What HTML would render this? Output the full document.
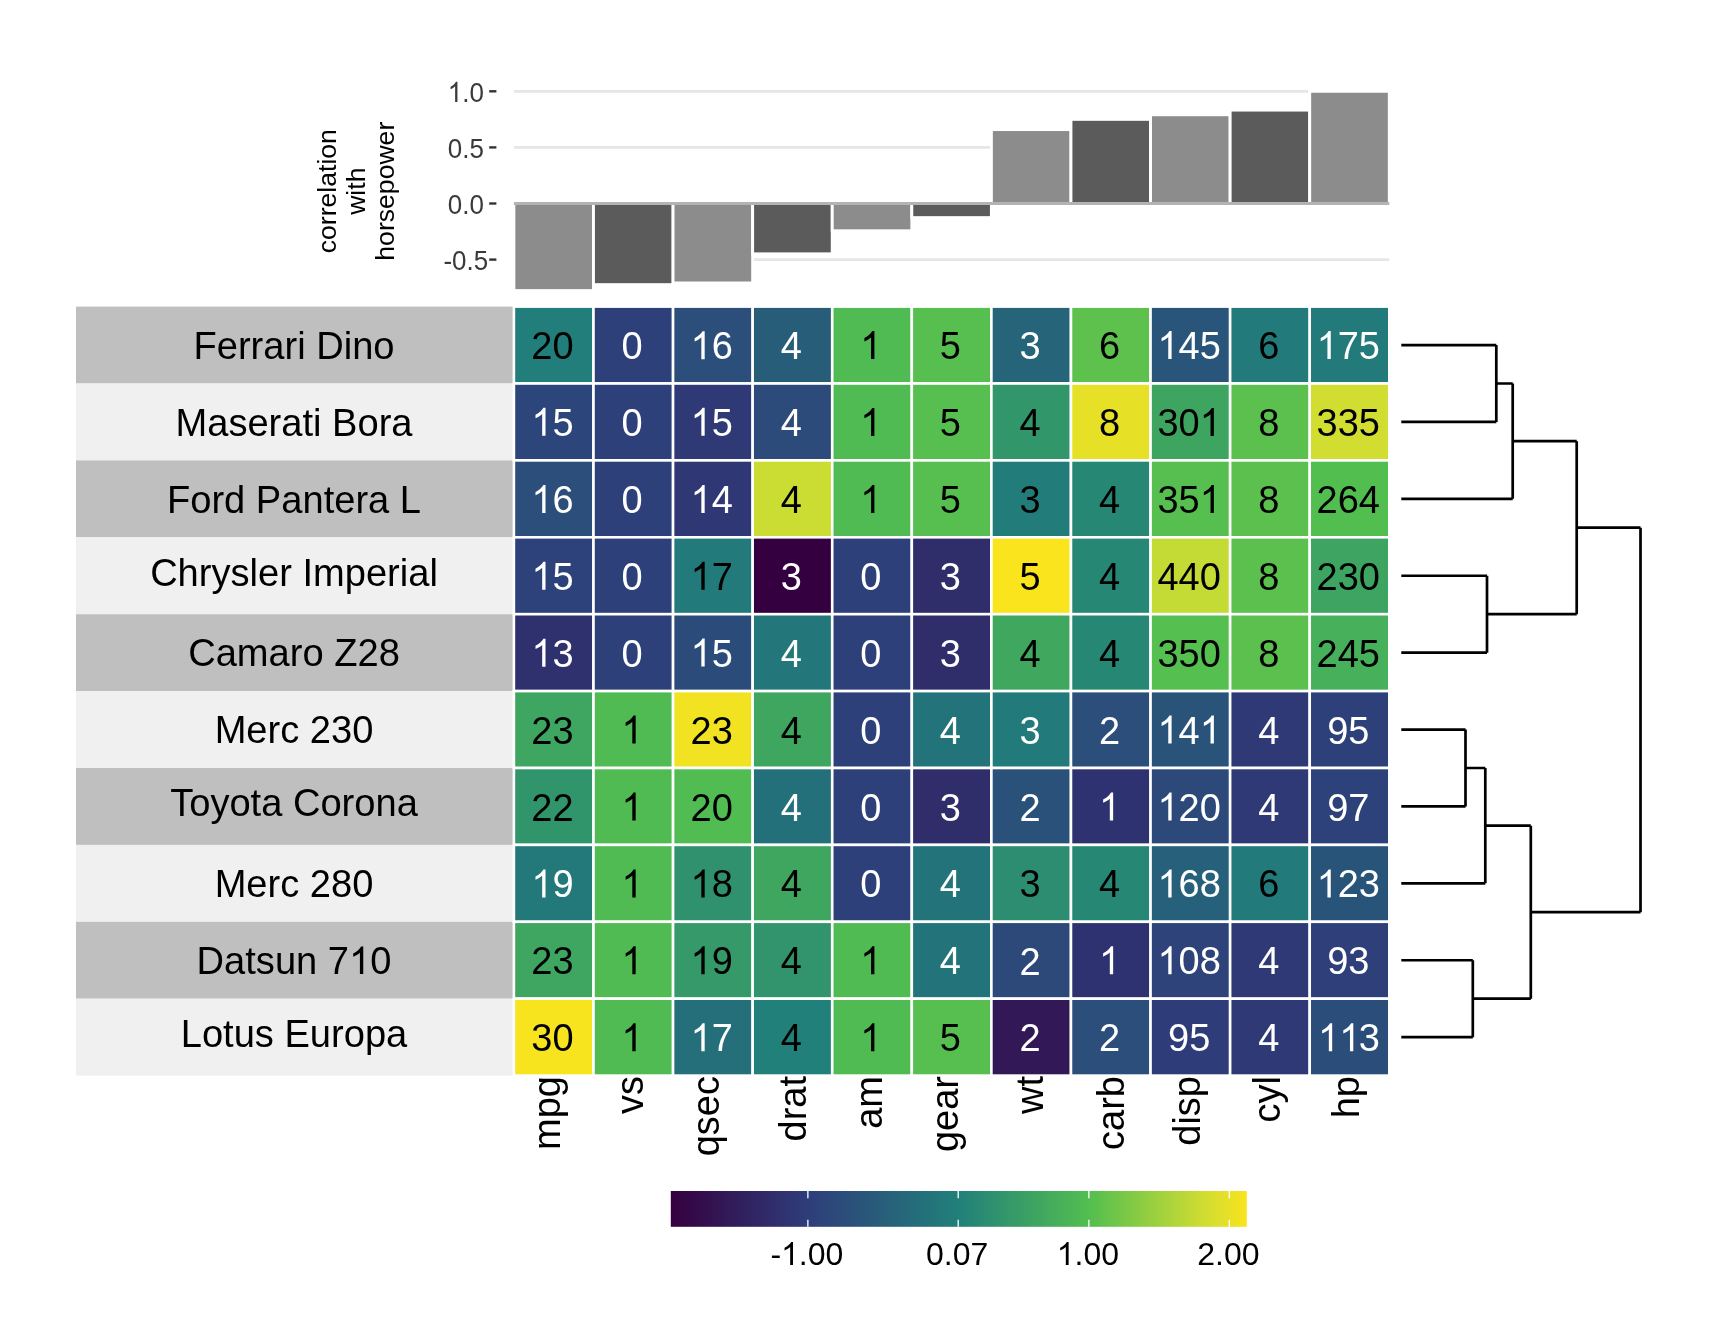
<!DOCTYPE html><html><head><meta charset="utf-8"><style>html,body{margin:0;padding:0;background:#fff;width:1728px;height:1344px;overflow:hidden}svg{display:block;will-change:transform}text{font-family:"Liberation Sans",sans-serif}</style></head><body>
<svg width="1728" height="1344" viewBox="0 0 1728 1344">
<rect x="0" y="0" width="1728" height="1344" fill="#ffffff"/>
<line x1="513.90" x2="1389.30" y1="91.30" y2="91.30" stroke="#e6e6e6" stroke-width="2.8"/>
<line x1="513.90" x2="1389.30" y1="147.40" y2="147.40" stroke="#e6e6e6" stroke-width="2.8"/>
<line x1="513.90" x2="1389.30" y1="259.60" y2="259.60" stroke="#e6e6e6" stroke-width="2.8"/>
<rect x="513.90" y="203.50" width="79.58" height="87.09" fill="#8c8c8c" stroke="#ffffff" stroke-width="2.9"/>
<rect x="593.48" y="203.50" width="79.58" height="81.13" fill="#5b5b5b" stroke="#ffffff" stroke-width="2.9"/>
<rect x="673.06" y="203.50" width="79.58" height="79.46" fill="#8c8c8c" stroke="#ffffff" stroke-width="2.9"/>
<rect x="752.65" y="203.50" width="79.58" height="50.36" fill="#5b5b5b" stroke="#ffffff" stroke-width="2.9"/>
<rect x="832.23" y="203.50" width="79.58" height="27.29" fill="#8c8c8c" stroke="#ffffff" stroke-width="2.9"/>
<rect x="911.81" y="203.50" width="79.58" height="14.10" fill="#5b5b5b" stroke="#ffffff" stroke-width="2.9"/>
<rect x="991.39" y="129.59" width="79.58" height="73.91" fill="#8c8c8c" stroke="#ffffff" stroke-width="2.9"/>
<rect x="1070.97" y="119.37" width="79.58" height="84.13" fill="#5b5b5b" stroke="#ffffff" stroke-width="2.9"/>
<rect x="1150.55" y="114.76" width="79.58" height="88.74" fill="#8c8c8c" stroke="#ffffff" stroke-width="2.9"/>
<rect x="1230.14" y="110.10" width="79.58" height="93.40" fill="#5b5b5b" stroke="#ffffff" stroke-width="2.9"/>
<rect x="1309.72" y="91.30" width="79.58" height="112.20" fill="#8c8c8c" stroke="#ffffff" stroke-width="2.9"/>
<line x1="513.90" x2="1389.30" y1="203.50" y2="203.50" stroke="#b3b3b3" stroke-width="2.9"/>
<line x1="489.2" x2="496.4" y1="91.30" y2="91.30" stroke="#333333" stroke-width="2.4"/>
<g transform="translate(465.80,101.97) scale(0.925,1.0)"><text x="0" y="0" font-size="28.1" fill="#3a3a3a" text-anchor="middle"><tspan fill="transparent">1</tspan>.0</text><path transform="translate(-19.53,0) scale(0.01372,-0.01372)" d="M763,0H583V1147Q518,1085 412.5,1023Q307,961 223,930V1104Q374,1175 487,1276Q600,1377 647,1472H763Z" fill="#3a3a3a"/></g>
<line x1="489.2" x2="496.4" y1="147.40" y2="147.40" stroke="#333333" stroke-width="2.4"/>
<g transform="translate(465.80,158.08) scale(0.925,1.0)"><text x="0" y="0" font-size="28.1" fill="#3a3a3a" text-anchor="middle">0.5</text></g>
<line x1="489.2" x2="496.4" y1="203.50" y2="203.50" stroke="#333333" stroke-width="2.4"/>
<g transform="translate(465.80,214.18) scale(0.925,1.0)"><text x="0" y="0" font-size="28.1" fill="#3a3a3a" text-anchor="middle">0.0</text></g>
<line x1="489.2" x2="496.4" y1="259.60" y2="259.60" stroke="#333333" stroke-width="2.4"/>
<g transform="translate(465.80,270.28) scale(0.925,1.0)"><text x="0" y="0" font-size="28.1" fill="#3a3a3a" text-anchor="middle">-0.5</text></g>
<text transform="translate(336.3,191.2) rotate(-90)" x="0" y="0" font-size="26.6" fill="#000" text-anchor="middle">correlation</text>
<text transform="translate(364.9,191.2) rotate(-90)" x="0" y="0" font-size="26.6" fill="#000" text-anchor="middle">with</text>
<text transform="translate(393.8,191.2) rotate(-90)" x="0" y="0" font-size="26.6" fill="#000" text-anchor="middle">horsepower</text>
<rect x="76.0" y="306.60" width="437.90" height="76.90" fill="#bfbfbf"/>
<g transform="translate(294.00,359.28)"><text x="0" y="0" font-size="38.1" fill="#000" text-anchor="middle">Ferrari Dino</text></g>
<rect x="76.0" y="383.50" width="437.90" height="76.90" fill="#f0f0f0"/>
<g transform="translate(294.00,436.18)"><text x="0" y="0" font-size="38.1" fill="#000" text-anchor="middle">Maserati Bora</text></g>
<rect x="76.0" y="460.40" width="437.90" height="76.90" fill="#bfbfbf"/>
<g transform="translate(294.00,513.08)"><text x="0" y="0" font-size="38.1" fill="#000" text-anchor="middle">Ford Pantera L</text></g>
<rect x="76.0" y="537.30" width="437.90" height="76.90" fill="#f0f0f0"/>
<g transform="translate(294.00,586.20)"><text x="0" y="0" font-size="38.1" fill="#000" text-anchor="middle">Chrysler Imperial</text></g>
<rect x="76.0" y="614.20" width="437.90" height="76.90" fill="#bfbfbf"/>
<g transform="translate(294.00,666.38)"><text x="0" y="0" font-size="38.1" fill="#000" text-anchor="middle">Camaro Z28</text></g>
<rect x="76.0" y="691.10" width="437.90" height="76.90" fill="#f0f0f0"/>
<g transform="translate(294.00,743.27)"><text x="0" y="0" font-size="38.1" fill="#000" text-anchor="middle">Merc 230</text></g>
<rect x="76.0" y="768.00" width="437.90" height="76.90" fill="#bfbfbf"/>
<g transform="translate(294.00,816.40)"><text x="0" y="0" font-size="38.1" fill="#000" text-anchor="middle">Toyota Corona</text></g>
<rect x="76.0" y="844.90" width="437.90" height="76.90" fill="#f0f0f0"/>
<g transform="translate(294.00,897.08)"><text x="0" y="0" font-size="38.1" fill="#000" text-anchor="middle">Merc 280</text></g>
<rect x="76.0" y="921.80" width="437.90" height="76.90" fill="#bfbfbf"/>
<g transform="translate(294.00,973.98)"><text x="0" y="0" font-size="38.1" fill="#000" text-anchor="middle">Datsun 7<tspan fill="transparent">1</tspan>0</text><path transform="translate(55.06,0) scale(0.01860,-0.01860)" d="M763,0H583V1147Q518,1085 412.5,1023Q307,961 223,930V1104Q374,1175 487,1276Q600,1377 647,1472H763Z" fill="#000"/></g>
<rect x="76.0" y="998.70" width="437.90" height="76.90" fill="#f0f0f0"/>
<g transform="translate(294.00,1046.90)"><text x="0" y="0" font-size="38.1" fill="#000" text-anchor="middle">Lotus Europa</text></g>
<rect x="513.90" y="306.60" width="79.58" height="76.90" fill="#217e7a" stroke="#ffffff" stroke-width="2.6"/>
<rect x="593.48" y="306.60" width="79.58" height="76.90" fill="#2d407a" stroke="#ffffff" stroke-width="2.6"/>
<rect x="673.06" y="306.60" width="79.58" height="76.90" fill="#2b4e7a" stroke="#ffffff" stroke-width="2.6"/>
<rect x="752.65" y="306.60" width="79.58" height="76.90" fill="#285d7a" stroke="#ffffff" stroke-width="2.6"/>
<rect x="832.23" y="306.60" width="79.58" height="76.90" fill="#4fbb52" stroke="#ffffff" stroke-width="2.6"/>
<rect x="911.81" y="306.60" width="79.58" height="76.90" fill="#56bf4f" stroke="#ffffff" stroke-width="2.6"/>
<rect x="991.39" y="306.60" width="79.58" height="76.90" fill="#26647a" stroke="#ffffff" stroke-width="2.6"/>
<rect x="1070.97" y="306.60" width="79.58" height="76.90" fill="#5ec14d" stroke="#ffffff" stroke-width="2.6"/>
<rect x="1150.55" y="306.60" width="79.58" height="76.90" fill="#29557a" stroke="#ffffff" stroke-width="2.6"/>
<rect x="1230.14" y="306.60" width="79.58" height="76.90" fill="#227b7a" stroke="#ffffff" stroke-width="2.6"/>
<rect x="1309.72" y="306.60" width="79.58" height="76.90" fill="#227a7a" stroke="#ffffff" stroke-width="2.6"/>
<rect x="513.90" y="383.50" width="79.58" height="76.90" fill="#2c457a" stroke="#ffffff" stroke-width="2.6"/>
<rect x="593.48" y="383.50" width="79.58" height="76.90" fill="#2d407a" stroke="#ffffff" stroke-width="2.6"/>
<rect x="673.06" y="383.50" width="79.58" height="76.90" fill="#2e3976" stroke="#ffffff" stroke-width="2.6"/>
<rect x="752.65" y="383.50" width="79.58" height="76.90" fill="#2c4a7a" stroke="#ffffff" stroke-width="2.6"/>
<rect x="832.23" y="383.50" width="79.58" height="76.90" fill="#4fbb52" stroke="#ffffff" stroke-width="2.6"/>
<rect x="911.81" y="383.50" width="79.58" height="76.90" fill="#56bf4f" stroke="#ffffff" stroke-width="2.6"/>
<rect x="991.39" y="383.50" width="79.58" height="76.90" fill="#32966b" stroke="#ffffff" stroke-width="2.6"/>
<rect x="1070.97" y="383.50" width="79.58" height="76.90" fill="#e6e127" stroke="#ffffff" stroke-width="2.6"/>
<rect x="1150.55" y="383.50" width="79.58" height="76.90" fill="#3ea561" stroke="#ffffff" stroke-width="2.6"/>
<rect x="1230.14" y="383.50" width="79.58" height="76.90" fill="#5bc04e" stroke="#ffffff" stroke-width="2.6"/>
<rect x="1309.72" y="383.50" width="79.58" height="76.90" fill="#d1dd31" stroke="#ffffff" stroke-width="2.6"/>
<rect x="513.90" y="460.40" width="79.58" height="76.90" fill="#2b4e7a" stroke="#ffffff" stroke-width="2.6"/>
<rect x="593.48" y="460.40" width="79.58" height="76.90" fill="#2d407a" stroke="#ffffff" stroke-width="2.6"/>
<rect x="673.06" y="460.40" width="79.58" height="76.90" fill="#2f3774" stroke="#ffffff" stroke-width="2.6"/>
<rect x="752.65" y="460.40" width="79.58" height="76.90" fill="#cbdc33" stroke="#ffffff" stroke-width="2.6"/>
<rect x="832.23" y="460.40" width="79.58" height="76.90" fill="#4fbb52" stroke="#ffffff" stroke-width="2.6"/>
<rect x="911.81" y="460.40" width="79.58" height="76.90" fill="#56bf4f" stroke="#ffffff" stroke-width="2.6"/>
<rect x="991.39" y="460.40" width="79.58" height="76.90" fill="#227c7a" stroke="#ffffff" stroke-width="2.6"/>
<rect x="1070.97" y="460.40" width="79.58" height="76.90" fill="#278775" stroke="#ffffff" stroke-width="2.6"/>
<rect x="1150.55" y="460.40" width="79.58" height="76.90" fill="#56bf4f" stroke="#ffffff" stroke-width="2.6"/>
<rect x="1230.14" y="460.40" width="79.58" height="76.90" fill="#5bc04e" stroke="#ffffff" stroke-width="2.6"/>
<rect x="1309.72" y="460.40" width="79.58" height="76.90" fill="#53be50" stroke="#ffffff" stroke-width="2.6"/>
<rect x="513.90" y="537.30" width="79.58" height="76.90" fill="#2d417a" stroke="#ffffff" stroke-width="2.6"/>
<rect x="593.48" y="537.30" width="79.58" height="76.90" fill="#2d407a" stroke="#ffffff" stroke-width="2.6"/>
<rect x="673.06" y="537.30" width="79.58" height="76.90" fill="#227b7a" stroke="#ffffff" stroke-width="2.6"/>
<rect x="752.65" y="537.30" width="79.58" height="76.90" fill="#35003f" stroke="#ffffff" stroke-width="2.6"/>
<rect x="832.23" y="537.30" width="79.58" height="76.90" fill="#2d407a" stroke="#ffffff" stroke-width="2.6"/>
<rect x="911.81" y="537.30" width="79.58" height="76.90" fill="#302d6b" stroke="#ffffff" stroke-width="2.6"/>
<rect x="991.39" y="537.30" width="79.58" height="76.90" fill="#f9e41e" stroke="#ffffff" stroke-width="2.6"/>
<rect x="1070.97" y="537.30" width="79.58" height="76.90" fill="#278775" stroke="#ffffff" stroke-width="2.6"/>
<rect x="1150.55" y="537.30" width="79.58" height="76.90" fill="#c4da35" stroke="#ffffff" stroke-width="2.6"/>
<rect x="1230.14" y="537.30" width="79.58" height="76.90" fill="#5bc04e" stroke="#ffffff" stroke-width="2.6"/>
<rect x="1309.72" y="537.30" width="79.58" height="76.90" fill="#3ea462" stroke="#ffffff" stroke-width="2.6"/>
<rect x="513.90" y="614.20" width="79.58" height="76.90" fill="#2f306e" stroke="#ffffff" stroke-width="2.6"/>
<rect x="593.48" y="614.20" width="79.58" height="76.90" fill="#2d407a" stroke="#ffffff" stroke-width="2.6"/>
<rect x="673.06" y="614.20" width="79.58" height="76.90" fill="#2b4c7a" stroke="#ffffff" stroke-width="2.6"/>
<rect x="752.65" y="614.20" width="79.58" height="76.90" fill="#23777a" stroke="#ffffff" stroke-width="2.6"/>
<rect x="832.23" y="614.20" width="79.58" height="76.90" fill="#2d407a" stroke="#ffffff" stroke-width="2.6"/>
<rect x="911.81" y="614.20" width="79.58" height="76.90" fill="#302d6b" stroke="#ffffff" stroke-width="2.6"/>
<rect x="991.39" y="614.20" width="79.58" height="76.90" fill="#40a75f" stroke="#ffffff" stroke-width="2.6"/>
<rect x="1070.97" y="614.20" width="79.58" height="76.90" fill="#278775" stroke="#ffffff" stroke-width="2.6"/>
<rect x="1150.55" y="614.20" width="79.58" height="76.90" fill="#55bf4f" stroke="#ffffff" stroke-width="2.6"/>
<rect x="1230.14" y="614.20" width="79.58" height="76.90" fill="#5bc04e" stroke="#ffffff" stroke-width="2.6"/>
<rect x="1309.72" y="614.20" width="79.58" height="76.90" fill="#47b05a" stroke="#ffffff" stroke-width="2.6"/>
<rect x="513.90" y="691.10" width="79.58" height="76.90" fill="#3fa661" stroke="#ffffff" stroke-width="2.6"/>
<rect x="593.48" y="691.10" width="79.58" height="76.90" fill="#4fbb52" stroke="#ffffff" stroke-width="2.6"/>
<rect x="673.06" y="691.10" width="79.58" height="76.90" fill="#f1e322" stroke="#ffffff" stroke-width="2.6"/>
<rect x="752.65" y="691.10" width="79.58" height="76.90" fill="#3fa660" stroke="#ffffff" stroke-width="2.6"/>
<rect x="832.23" y="691.10" width="79.58" height="76.90" fill="#2d407a" stroke="#ffffff" stroke-width="2.6"/>
<rect x="911.81" y="691.10" width="79.58" height="76.90" fill="#23747a" stroke="#ffffff" stroke-width="2.6"/>
<rect x="991.39" y="691.10" width="79.58" height="76.90" fill="#227b7a" stroke="#ffffff" stroke-width="2.6"/>
<rect x="1070.97" y="691.10" width="79.58" height="76.90" fill="#2b4e7a" stroke="#ffffff" stroke-width="2.6"/>
<rect x="1150.55" y="691.10" width="79.58" height="76.90" fill="#2a537a" stroke="#ffffff" stroke-width="2.6"/>
<rect x="1230.14" y="691.10" width="79.58" height="76.90" fill="#2e3976" stroke="#ffffff" stroke-width="2.6"/>
<rect x="1309.72" y="691.10" width="79.58" height="76.90" fill="#2d407a" stroke="#ffffff" stroke-width="2.6"/>
<rect x="513.90" y="768.00" width="79.58" height="76.90" fill="#31956c" stroke="#ffffff" stroke-width="2.6"/>
<rect x="593.48" y="768.00" width="79.58" height="76.90" fill="#4fbb52" stroke="#ffffff" stroke-width="2.6"/>
<rect x="673.06" y="768.00" width="79.58" height="76.90" fill="#51bc51" stroke="#ffffff" stroke-width="2.6"/>
<rect x="752.65" y="768.00" width="79.58" height="76.90" fill="#24707a" stroke="#ffffff" stroke-width="2.6"/>
<rect x="832.23" y="768.00" width="79.58" height="76.90" fill="#2d407a" stroke="#ffffff" stroke-width="2.6"/>
<rect x="911.81" y="768.00" width="79.58" height="76.90" fill="#302d6b" stroke="#ffffff" stroke-width="2.6"/>
<rect x="991.39" y="768.00" width="79.58" height="76.90" fill="#2a517a" stroke="#ffffff" stroke-width="2.6"/>
<rect x="1070.97" y="768.00" width="79.58" height="76.90" fill="#2f3270" stroke="#ffffff" stroke-width="2.6"/>
<rect x="1150.55" y="768.00" width="79.58" height="76.90" fill="#2c497a" stroke="#ffffff" stroke-width="2.6"/>
<rect x="1230.14" y="768.00" width="79.58" height="76.90" fill="#2e3976" stroke="#ffffff" stroke-width="2.6"/>
<rect x="1309.72" y="768.00" width="79.58" height="76.90" fill="#2d427a" stroke="#ffffff" stroke-width="2.6"/>
<rect x="513.90" y="844.90" width="79.58" height="76.90" fill="#23787a" stroke="#ffffff" stroke-width="2.6"/>
<rect x="593.48" y="844.90" width="79.58" height="76.90" fill="#4fbb52" stroke="#ffffff" stroke-width="2.6"/>
<rect x="673.06" y="844.90" width="79.58" height="76.90" fill="#2f916e" stroke="#ffffff" stroke-width="2.6"/>
<rect x="752.65" y="844.90" width="79.58" height="76.90" fill="#3fa660" stroke="#ffffff" stroke-width="2.6"/>
<rect x="832.23" y="844.90" width="79.58" height="76.90" fill="#2d407a" stroke="#ffffff" stroke-width="2.6"/>
<rect x="911.81" y="844.90" width="79.58" height="76.90" fill="#23747a" stroke="#ffffff" stroke-width="2.6"/>
<rect x="991.39" y="844.90" width="79.58" height="76.90" fill="#2c8d71" stroke="#ffffff" stroke-width="2.6"/>
<rect x="1070.97" y="844.90" width="79.58" height="76.90" fill="#278775" stroke="#ffffff" stroke-width="2.6"/>
<rect x="1150.55" y="844.90" width="79.58" height="76.90" fill="#27607a" stroke="#ffffff" stroke-width="2.6"/>
<rect x="1230.14" y="844.90" width="79.58" height="76.90" fill="#227b7a" stroke="#ffffff" stroke-width="2.6"/>
<rect x="1309.72" y="844.90" width="79.58" height="76.90" fill="#29547a" stroke="#ffffff" stroke-width="2.6"/>
<rect x="513.90" y="921.80" width="79.58" height="76.90" fill="#3fa661" stroke="#ffffff" stroke-width="2.6"/>
<rect x="593.48" y="921.80" width="79.58" height="76.90" fill="#4fbb52" stroke="#ffffff" stroke-width="2.6"/>
<rect x="673.06" y="921.80" width="79.58" height="76.90" fill="#359969" stroke="#ffffff" stroke-width="2.6"/>
<rect x="752.65" y="921.80" width="79.58" height="76.90" fill="#31946c" stroke="#ffffff" stroke-width="2.6"/>
<rect x="832.23" y="921.80" width="79.58" height="76.90" fill="#4fbb52" stroke="#ffffff" stroke-width="2.6"/>
<rect x="911.81" y="921.80" width="79.58" height="76.90" fill="#23747a" stroke="#ffffff" stroke-width="2.6"/>
<rect x="991.39" y="921.80" width="79.58" height="76.90" fill="#2c497a" stroke="#ffffff" stroke-width="2.6"/>
<rect x="1070.97" y="921.80" width="79.58" height="76.90" fill="#2f3270" stroke="#ffffff" stroke-width="2.6"/>
<rect x="1150.55" y="921.80" width="79.58" height="76.90" fill="#2d437a" stroke="#ffffff" stroke-width="2.6"/>
<rect x="1230.14" y="921.80" width="79.58" height="76.90" fill="#2e3976" stroke="#ffffff" stroke-width="2.6"/>
<rect x="1309.72" y="921.80" width="79.58" height="76.90" fill="#2e3f7a" stroke="#ffffff" stroke-width="2.6"/>
<rect x="513.90" y="998.70" width="79.58" height="76.90" fill="#f7e41f" stroke="#ffffff" stroke-width="2.6"/>
<rect x="593.48" y="998.70" width="79.58" height="76.90" fill="#4fbb52" stroke="#ffffff" stroke-width="2.6"/>
<rect x="673.06" y="998.70" width="79.58" height="76.90" fill="#246f7a" stroke="#ffffff" stroke-width="2.6"/>
<rect x="752.65" y="998.70" width="79.58" height="76.90" fill="#21807a" stroke="#ffffff" stroke-width="2.6"/>
<rect x="832.23" y="998.70" width="79.58" height="76.90" fill="#4fbb52" stroke="#ffffff" stroke-width="2.6"/>
<rect x="911.81" y="998.70" width="79.58" height="76.90" fill="#56bf4f" stroke="#ffffff" stroke-width="2.6"/>
<rect x="991.39" y="998.70" width="79.58" height="76.90" fill="#321856" stroke="#ffffff" stroke-width="2.6"/>
<rect x="1070.97" y="998.70" width="79.58" height="76.90" fill="#2b4e7a" stroke="#ffffff" stroke-width="2.6"/>
<rect x="1150.55" y="998.70" width="79.58" height="76.90" fill="#2e3c79" stroke="#ffffff" stroke-width="2.6"/>
<rect x="1230.14" y="998.70" width="79.58" height="76.90" fill="#2e3976" stroke="#ffffff" stroke-width="2.6"/>
<rect x="1309.72" y="998.70" width="79.58" height="76.90" fill="#2b4d7a" stroke="#ffffff" stroke-width="2.6"/>
<g transform="translate(552.49,359.15) scale(1.0,1.026)"><text x="0" y="0" font-size="38.0" fill="#000000" text-anchor="middle">20</text></g>
<g transform="translate(632.07,359.15) scale(1.0,1.026)"><text x="0" y="0" font-size="38.0" fill="#ffffff" text-anchor="middle">0</text></g>
<g transform="translate(711.65,359.15) scale(1.0,1.026)"><text x="0" y="0" font-size="38.0" fill="#ffffff" text-anchor="middle"><tspan fill="transparent">1</tspan>6</text><path transform="translate(-21.13,0) scale(0.01855,-0.01855)" d="M763,0H583V1147Q518,1085 412.5,1023Q307,961 223,930V1104Q374,1175 487,1276Q600,1377 647,1472H763Z" fill="#ffffff"/></g>
<g transform="translate(791.24,359.12) scale(1.0,1.026)"><text x="0" y="0" font-size="38.0" fill="#ffffff" text-anchor="middle">4</text></g>
<g transform="translate(870.82,359.12) scale(1.0,1.026)"><text x="0" y="0" font-size="38.0" fill="#000000" text-anchor="middle"><tspan fill="transparent">1</tspan></text><path transform="translate(-10.57,0) scale(0.01855,-0.01855)" d="M763,0H583V1147Q518,1085 412.5,1023Q307,961 223,930V1104Q374,1175 487,1276Q600,1377 647,1472H763Z" fill="#000000"/></g>
<g transform="translate(950.40,358.95) scale(1.0,1.026)"><text x="0" y="0" font-size="38.0" fill="#000000" text-anchor="middle">5</text></g>
<g transform="translate(1029.98,359.15) scale(1.0,1.026)"><text x="0" y="0" font-size="38.0" fill="#ffffff" text-anchor="middle">3</text></g>
<g transform="translate(1109.56,359.15) scale(1.0,1.026)"><text x="0" y="0" font-size="38.0" fill="#000000" text-anchor="middle">6</text></g>
<g transform="translate(1189.15,358.95) scale(1.0,1.026)"><text x="0" y="0" font-size="38.0" fill="#ffffff" text-anchor="middle"><tspan fill="transparent">1</tspan>45</text><path transform="translate(-31.70,0) scale(0.01855,-0.01855)" d="M763,0H583V1147Q518,1085 412.5,1023Q307,961 223,930V1104Q374,1175 487,1276Q600,1377 647,1472H763Z" fill="#ffffff"/></g>
<g transform="translate(1268.73,359.15) scale(1.0,1.026)"><text x="0" y="0" font-size="38.0" fill="#000000" text-anchor="middle">6</text></g>
<g transform="translate(1348.31,358.95) scale(1.0,1.026)"><text x="0" y="0" font-size="38.0" fill="#ffffff" text-anchor="middle"><tspan fill="transparent">1</tspan>75</text><path transform="translate(-31.70,0) scale(0.01855,-0.01855)" d="M763,0H583V1147Q518,1085 412.5,1023Q307,961 223,930V1104Q374,1175 487,1276Q600,1377 647,1472H763Z" fill="#ffffff"/></g>
<g transform="translate(552.49,435.85) scale(1.0,1.026)"><text x="0" y="0" font-size="38.0" fill="#ffffff" text-anchor="middle"><tspan fill="transparent">1</tspan>5</text><path transform="translate(-21.13,0) scale(0.01855,-0.01855)" d="M763,0H583V1147Q518,1085 412.5,1023Q307,961 223,930V1104Q374,1175 487,1276Q600,1377 647,1472H763Z" fill="#ffffff"/></g>
<g transform="translate(632.07,436.05) scale(1.0,1.026)"><text x="0" y="0" font-size="38.0" fill="#ffffff" text-anchor="middle">0</text></g>
<g transform="translate(711.65,435.85) scale(1.0,1.026)"><text x="0" y="0" font-size="38.0" fill="#ffffff" text-anchor="middle"><tspan fill="transparent">1</tspan>5</text><path transform="translate(-21.13,0) scale(0.01855,-0.01855)" d="M763,0H583V1147Q518,1085 412.5,1023Q307,961 223,930V1104Q374,1175 487,1276Q600,1377 647,1472H763Z" fill="#ffffff"/></g>
<g transform="translate(791.24,436.02) scale(1.0,1.026)"><text x="0" y="0" font-size="38.0" fill="#ffffff" text-anchor="middle">4</text></g>
<g transform="translate(870.82,436.02) scale(1.0,1.026)"><text x="0" y="0" font-size="38.0" fill="#000000" text-anchor="middle"><tspan fill="transparent">1</tspan></text><path transform="translate(-10.57,0) scale(0.01855,-0.01855)" d="M763,0H583V1147Q518,1085 412.5,1023Q307,961 223,930V1104Q374,1175 487,1276Q600,1377 647,1472H763Z" fill="#000000"/></g>
<g transform="translate(950.40,435.85) scale(1.0,1.026)"><text x="0" y="0" font-size="38.0" fill="#000000" text-anchor="middle">5</text></g>
<g transform="translate(1029.98,436.02) scale(1.0,1.026)"><text x="0" y="0" font-size="38.0" fill="#000000" text-anchor="middle">4</text></g>
<g transform="translate(1109.56,436.05) scale(1.0,1.026)"><text x="0" y="0" font-size="38.0" fill="#000000" text-anchor="middle">8</text></g>
<g transform="translate(1189.15,436.05) scale(1.0,1.026)"><text x="0" y="0" font-size="38.0" fill="#000000" text-anchor="middle">30<tspan fill="transparent">1</tspan></text><path transform="translate(10.57,0) scale(0.01855,-0.01855)" d="M763,0H583V1147Q518,1085 412.5,1023Q307,961 223,930V1104Q374,1175 487,1276Q600,1377 647,1472H763Z" fill="#000000"/></g>
<g transform="translate(1268.73,436.05) scale(1.0,1.026)"><text x="0" y="0" font-size="38.0" fill="#000000" text-anchor="middle">8</text></g>
<g transform="translate(1348.31,436.05) scale(1.0,1.026)"><text x="0" y="0" font-size="38.0" fill="#000000" text-anchor="middle">335</text></g>
<g transform="translate(552.49,512.95) scale(1.0,1.026)"><text x="0" y="0" font-size="38.0" fill="#ffffff" text-anchor="middle"><tspan fill="transparent">1</tspan>6</text><path transform="translate(-21.13,0) scale(0.01855,-0.01855)" d="M763,0H583V1147Q518,1085 412.5,1023Q307,961 223,930V1104Q374,1175 487,1276Q600,1377 647,1472H763Z" fill="#ffffff"/></g>
<g transform="translate(632.07,512.95) scale(1.0,1.026)"><text x="0" y="0" font-size="38.0" fill="#ffffff" text-anchor="middle">0</text></g>
<g transform="translate(711.65,512.92) scale(1.0,1.026)"><text x="0" y="0" font-size="38.0" fill="#ffffff" text-anchor="middle"><tspan fill="transparent">1</tspan>4</text><path transform="translate(-21.13,0) scale(0.01855,-0.01855)" d="M763,0H583V1147Q518,1085 412.5,1023Q307,961 223,930V1104Q374,1175 487,1276Q600,1377 647,1472H763Z" fill="#ffffff"/></g>
<g transform="translate(791.24,512.92) scale(1.0,1.026)"><text x="0" y="0" font-size="38.0" fill="#000000" text-anchor="middle">4</text></g>
<g transform="translate(870.82,512.92) scale(1.0,1.026)"><text x="0" y="0" font-size="38.0" fill="#000000" text-anchor="middle"><tspan fill="transparent">1</tspan></text><path transform="translate(-10.57,0) scale(0.01855,-0.01855)" d="M763,0H583V1147Q518,1085 412.5,1023Q307,961 223,930V1104Q374,1175 487,1276Q600,1377 647,1472H763Z" fill="#000000"/></g>
<g transform="translate(950.40,512.75) scale(1.0,1.026)"><text x="0" y="0" font-size="38.0" fill="#000000" text-anchor="middle">5</text></g>
<g transform="translate(1029.98,512.95) scale(1.0,1.026)"><text x="0" y="0" font-size="38.0" fill="#000000" text-anchor="middle">3</text></g>
<g transform="translate(1109.56,512.92) scale(1.0,1.026)"><text x="0" y="0" font-size="38.0" fill="#000000" text-anchor="middle">4</text></g>
<g transform="translate(1189.15,512.95) scale(1.0,1.026)"><text x="0" y="0" font-size="38.0" fill="#000000" text-anchor="middle">35<tspan fill="transparent">1</tspan></text><path transform="translate(10.57,0) scale(0.01855,-0.01855)" d="M763,0H583V1147Q518,1085 412.5,1023Q307,961 223,930V1104Q374,1175 487,1276Q600,1377 647,1472H763Z" fill="#000000"/></g>
<g transform="translate(1268.73,512.95) scale(1.0,1.026)"><text x="0" y="0" font-size="38.0" fill="#000000" text-anchor="middle">8</text></g>
<g transform="translate(1348.31,512.95) scale(1.0,1.026)"><text x="0" y="0" font-size="38.0" fill="#000000" text-anchor="middle">264</text></g>
<g transform="translate(552.49,589.65) scale(1.0,1.026)"><text x="0" y="0" font-size="38.0" fill="#ffffff" text-anchor="middle"><tspan fill="transparent">1</tspan>5</text><path transform="translate(-21.13,0) scale(0.01855,-0.01855)" d="M763,0H583V1147Q518,1085 412.5,1023Q307,961 223,930V1104Q374,1175 487,1276Q600,1377 647,1472H763Z" fill="#ffffff"/></g>
<g transform="translate(632.07,589.85) scale(1.0,1.026)"><text x="0" y="0" font-size="38.0" fill="#ffffff" text-anchor="middle">0</text></g>
<g transform="translate(711.65,589.83) scale(1.0,1.026)"><text x="0" y="0" font-size="38.0" fill="#000000" text-anchor="middle"><tspan fill="transparent">1</tspan>7</text><path transform="translate(-21.13,0) scale(0.01855,-0.01855)" d="M763,0H583V1147Q518,1085 412.5,1023Q307,961 223,930V1104Q374,1175 487,1276Q600,1377 647,1472H763Z" fill="#000000"/></g>
<g transform="translate(791.24,589.85) scale(1.0,1.026)"><text x="0" y="0" font-size="38.0" fill="#ffffff" text-anchor="middle">3</text></g>
<g transform="translate(870.82,589.85) scale(1.0,1.026)"><text x="0" y="0" font-size="38.0" fill="#ffffff" text-anchor="middle">0</text></g>
<g transform="translate(950.40,589.85) scale(1.0,1.026)"><text x="0" y="0" font-size="38.0" fill="#ffffff" text-anchor="middle">3</text></g>
<g transform="translate(1029.98,589.65) scale(1.0,1.026)"><text x="0" y="0" font-size="38.0" fill="#000000" text-anchor="middle">5</text></g>
<g transform="translate(1109.56,589.83) scale(1.0,1.026)"><text x="0" y="0" font-size="38.0" fill="#000000" text-anchor="middle">4</text></g>
<g transform="translate(1189.15,589.85) scale(1.0,1.026)"><text x="0" y="0" font-size="38.0" fill="#000000" text-anchor="middle">440</text></g>
<g transform="translate(1268.73,589.85) scale(1.0,1.026)"><text x="0" y="0" font-size="38.0" fill="#000000" text-anchor="middle">8</text></g>
<g transform="translate(1348.31,589.85) scale(1.0,1.026)"><text x="0" y="0" font-size="38.0" fill="#000000" text-anchor="middle">230</text></g>
<g transform="translate(552.49,666.75) scale(1.0,1.026)"><text x="0" y="0" font-size="38.0" fill="#ffffff" text-anchor="middle"><tspan fill="transparent">1</tspan>3</text><path transform="translate(-21.13,0) scale(0.01855,-0.01855)" d="M763,0H583V1147Q518,1085 412.5,1023Q307,961 223,930V1104Q374,1175 487,1276Q600,1377 647,1472H763Z" fill="#ffffff"/></g>
<g transform="translate(632.07,666.75) scale(1.0,1.026)"><text x="0" y="0" font-size="38.0" fill="#ffffff" text-anchor="middle">0</text></g>
<g transform="translate(711.65,666.55) scale(1.0,1.026)"><text x="0" y="0" font-size="38.0" fill="#ffffff" text-anchor="middle"><tspan fill="transparent">1</tspan>5</text><path transform="translate(-21.13,0) scale(0.01855,-0.01855)" d="M763,0H583V1147Q518,1085 412.5,1023Q307,961 223,930V1104Q374,1175 487,1276Q600,1377 647,1472H763Z" fill="#ffffff"/></g>
<g transform="translate(791.24,666.73) scale(1.0,1.026)"><text x="0" y="0" font-size="38.0" fill="#ffffff" text-anchor="middle">4</text></g>
<g transform="translate(870.82,666.75) scale(1.0,1.026)"><text x="0" y="0" font-size="38.0" fill="#ffffff" text-anchor="middle">0</text></g>
<g transform="translate(950.40,666.75) scale(1.0,1.026)"><text x="0" y="0" font-size="38.0" fill="#ffffff" text-anchor="middle">3</text></g>
<g transform="translate(1029.98,666.73) scale(1.0,1.026)"><text x="0" y="0" font-size="38.0" fill="#000000" text-anchor="middle">4</text></g>
<g transform="translate(1109.56,666.73) scale(1.0,1.026)"><text x="0" y="0" font-size="38.0" fill="#000000" text-anchor="middle">4</text></g>
<g transform="translate(1189.15,666.75) scale(1.0,1.026)"><text x="0" y="0" font-size="38.0" fill="#000000" text-anchor="middle">350</text></g>
<g transform="translate(1268.73,666.75) scale(1.0,1.026)"><text x="0" y="0" font-size="38.0" fill="#000000" text-anchor="middle">8</text></g>
<g transform="translate(1348.31,666.75) scale(1.0,1.026)"><text x="0" y="0" font-size="38.0" fill="#000000" text-anchor="middle">245</text></g>
<g transform="translate(552.49,743.65) scale(1.0,1.026)"><text x="0" y="0" font-size="38.0" fill="#000000" text-anchor="middle">23</text></g>
<g transform="translate(632.07,743.62) scale(1.0,1.026)"><text x="0" y="0" font-size="38.0" fill="#000000" text-anchor="middle"><tspan fill="transparent">1</tspan></text><path transform="translate(-10.57,0) scale(0.01855,-0.01855)" d="M763,0H583V1147Q518,1085 412.5,1023Q307,961 223,930V1104Q374,1175 487,1276Q600,1377 647,1472H763Z" fill="#000000"/></g>
<g transform="translate(711.65,743.65) scale(1.0,1.026)"><text x="0" y="0" font-size="38.0" fill="#000000" text-anchor="middle">23</text></g>
<g transform="translate(791.24,743.62) scale(1.0,1.026)"><text x="0" y="0" font-size="38.0" fill="#000000" text-anchor="middle">4</text></g>
<g transform="translate(870.82,743.65) scale(1.0,1.026)"><text x="0" y="0" font-size="38.0" fill="#ffffff" text-anchor="middle">0</text></g>
<g transform="translate(950.40,743.62) scale(1.0,1.026)"><text x="0" y="0" font-size="38.0" fill="#ffffff" text-anchor="middle">4</text></g>
<g transform="translate(1029.98,743.65) scale(1.0,1.026)"><text x="0" y="0" font-size="38.0" fill="#ffffff" text-anchor="middle">3</text></g>
<g transform="translate(1109.56,743.82) scale(1.0,1.026)"><text x="0" y="0" font-size="38.0" fill="#ffffff" text-anchor="middle">2</text></g>
<g transform="translate(1189.15,743.62) scale(1.0,1.026)"><text x="0" y="0" font-size="38.0" fill="#ffffff" text-anchor="middle"><tspan fill="transparent">1</tspan>4<tspan fill="transparent">1</tspan></text><path transform="translate(-31.70,0) scale(0.01855,-0.01855)" d="M763,0H583V1147Q518,1085 412.5,1023Q307,961 223,930V1104Q374,1175 487,1276Q600,1377 647,1472H763Z" fill="#ffffff"/><path transform="translate(10.57,0) scale(0.01855,-0.01855)" d="M763,0H583V1147Q518,1085 412.5,1023Q307,961 223,930V1104Q374,1175 487,1276Q600,1377 647,1472H763Z" fill="#ffffff"/></g>
<g transform="translate(1268.73,743.62) scale(1.0,1.026)"><text x="0" y="0" font-size="38.0" fill="#ffffff" text-anchor="middle">4</text></g>
<g transform="translate(1348.31,743.65) scale(1.0,1.026)"><text x="0" y="0" font-size="38.0" fill="#ffffff" text-anchor="middle">95</text></g>
<g transform="translate(552.49,820.73) scale(1.0,1.026)"><text x="0" y="0" font-size="38.0" fill="#000000" text-anchor="middle">22</text></g>
<g transform="translate(632.07,820.53) scale(1.0,1.026)"><text x="0" y="0" font-size="38.0" fill="#000000" text-anchor="middle"><tspan fill="transparent">1</tspan></text><path transform="translate(-10.57,0) scale(0.01855,-0.01855)" d="M763,0H583V1147Q518,1085 412.5,1023Q307,961 223,930V1104Q374,1175 487,1276Q600,1377 647,1472H763Z" fill="#000000"/></g>
<g transform="translate(711.65,820.55) scale(1.0,1.026)"><text x="0" y="0" font-size="38.0" fill="#000000" text-anchor="middle">20</text></g>
<g transform="translate(791.24,820.53) scale(1.0,1.026)"><text x="0" y="0" font-size="38.0" fill="#ffffff" text-anchor="middle">4</text></g>
<g transform="translate(870.82,820.55) scale(1.0,1.026)"><text x="0" y="0" font-size="38.0" fill="#ffffff" text-anchor="middle">0</text></g>
<g transform="translate(950.40,820.55) scale(1.0,1.026)"><text x="0" y="0" font-size="38.0" fill="#ffffff" text-anchor="middle">3</text></g>
<g transform="translate(1029.98,820.73) scale(1.0,1.026)"><text x="0" y="0" font-size="38.0" fill="#ffffff" text-anchor="middle">2</text></g>
<g transform="translate(1109.56,820.53) scale(1.0,1.026)"><text x="0" y="0" font-size="38.0" fill="#ffffff" text-anchor="middle"><tspan fill="transparent">1</tspan></text><path transform="translate(-10.57,0) scale(0.01855,-0.01855)" d="M763,0H583V1147Q518,1085 412.5,1023Q307,961 223,930V1104Q374,1175 487,1276Q600,1377 647,1472H763Z" fill="#ffffff"/></g>
<g transform="translate(1189.15,820.55) scale(1.0,1.026)"><text x="0" y="0" font-size="38.0" fill="#ffffff" text-anchor="middle"><tspan fill="transparent">1</tspan>20</text><path transform="translate(-31.70,0) scale(0.01855,-0.01855)" d="M763,0H583V1147Q518,1085 412.5,1023Q307,961 223,930V1104Q374,1175 487,1276Q600,1377 647,1472H763Z" fill="#ffffff"/></g>
<g transform="translate(1268.73,820.53) scale(1.0,1.026)"><text x="0" y="0" font-size="38.0" fill="#ffffff" text-anchor="middle">4</text></g>
<g transform="translate(1348.31,820.55) scale(1.0,1.026)"><text x="0" y="0" font-size="38.0" fill="#ffffff" text-anchor="middle">97</text></g>
<g transform="translate(552.49,897.45) scale(1.0,1.026)"><text x="0" y="0" font-size="38.0" fill="#ffffff" text-anchor="middle"><tspan fill="transparent">1</tspan>9</text><path transform="translate(-21.13,0) scale(0.01855,-0.01855)" d="M763,0H583V1147Q518,1085 412.5,1023Q307,961 223,930V1104Q374,1175 487,1276Q600,1377 647,1472H763Z" fill="#ffffff"/></g>
<g transform="translate(632.07,897.43) scale(1.0,1.026)"><text x="0" y="0" font-size="38.0" fill="#000000" text-anchor="middle"><tspan fill="transparent">1</tspan></text><path transform="translate(-10.57,0) scale(0.01855,-0.01855)" d="M763,0H583V1147Q518,1085 412.5,1023Q307,961 223,930V1104Q374,1175 487,1276Q600,1377 647,1472H763Z" fill="#000000"/></g>
<g transform="translate(711.65,897.45) scale(1.0,1.026)"><text x="0" y="0" font-size="38.0" fill="#000000" text-anchor="middle"><tspan fill="transparent">1</tspan>8</text><path transform="translate(-21.13,0) scale(0.01855,-0.01855)" d="M763,0H583V1147Q518,1085 412.5,1023Q307,961 223,930V1104Q374,1175 487,1276Q600,1377 647,1472H763Z" fill="#000000"/></g>
<g transform="translate(791.24,897.43) scale(1.0,1.026)"><text x="0" y="0" font-size="38.0" fill="#000000" text-anchor="middle">4</text></g>
<g transform="translate(870.82,897.45) scale(1.0,1.026)"><text x="0" y="0" font-size="38.0" fill="#ffffff" text-anchor="middle">0</text></g>
<g transform="translate(950.40,897.43) scale(1.0,1.026)"><text x="0" y="0" font-size="38.0" fill="#ffffff" text-anchor="middle">4</text></g>
<g transform="translate(1029.98,897.45) scale(1.0,1.026)"><text x="0" y="0" font-size="38.0" fill="#000000" text-anchor="middle">3</text></g>
<g transform="translate(1109.56,897.43) scale(1.0,1.026)"><text x="0" y="0" font-size="38.0" fill="#000000" text-anchor="middle">4</text></g>
<g transform="translate(1189.15,897.45) scale(1.0,1.026)"><text x="0" y="0" font-size="38.0" fill="#ffffff" text-anchor="middle"><tspan fill="transparent">1</tspan>68</text><path transform="translate(-31.70,0) scale(0.01855,-0.01855)" d="M763,0H583V1147Q518,1085 412.5,1023Q307,961 223,930V1104Q374,1175 487,1276Q600,1377 647,1472H763Z" fill="#ffffff"/></g>
<g transform="translate(1268.73,897.45) scale(1.0,1.026)"><text x="0" y="0" font-size="38.0" fill="#000000" text-anchor="middle">6</text></g>
<g transform="translate(1348.31,897.45) scale(1.0,1.026)"><text x="0" y="0" font-size="38.0" fill="#ffffff" text-anchor="middle"><tspan fill="transparent">1</tspan>23</text><path transform="translate(-31.70,0) scale(0.01855,-0.01855)" d="M763,0H583V1147Q518,1085 412.5,1023Q307,961 223,930V1104Q374,1175 487,1276Q600,1377 647,1472H763Z" fill="#ffffff"/></g>
<g transform="translate(552.49,974.35) scale(1.0,1.026)"><text x="0" y="0" font-size="38.0" fill="#000000" text-anchor="middle">23</text></g>
<g transform="translate(632.07,974.33) scale(1.0,1.026)"><text x="0" y="0" font-size="38.0" fill="#000000" text-anchor="middle"><tspan fill="transparent">1</tspan></text><path transform="translate(-10.57,0) scale(0.01855,-0.01855)" d="M763,0H583V1147Q518,1085 412.5,1023Q307,961 223,930V1104Q374,1175 487,1276Q600,1377 647,1472H763Z" fill="#000000"/></g>
<g transform="translate(711.65,974.35) scale(1.0,1.026)"><text x="0" y="0" font-size="38.0" fill="#000000" text-anchor="middle"><tspan fill="transparent">1</tspan>9</text><path transform="translate(-21.13,0) scale(0.01855,-0.01855)" d="M763,0H583V1147Q518,1085 412.5,1023Q307,961 223,930V1104Q374,1175 487,1276Q600,1377 647,1472H763Z" fill="#000000"/></g>
<g transform="translate(791.24,974.33) scale(1.0,1.026)"><text x="0" y="0" font-size="38.0" fill="#000000" text-anchor="middle">4</text></g>
<g transform="translate(870.82,974.33) scale(1.0,1.026)"><text x="0" y="0" font-size="38.0" fill="#000000" text-anchor="middle"><tspan fill="transparent">1</tspan></text><path transform="translate(-10.57,0) scale(0.01855,-0.01855)" d="M763,0H583V1147Q518,1085 412.5,1023Q307,961 223,930V1104Q374,1175 487,1276Q600,1377 647,1472H763Z" fill="#000000"/></g>
<g transform="translate(950.40,974.33) scale(1.0,1.026)"><text x="0" y="0" font-size="38.0" fill="#ffffff" text-anchor="middle">4</text></g>
<g transform="translate(1029.98,974.52) scale(1.0,1.026)"><text x="0" y="0" font-size="38.0" fill="#ffffff" text-anchor="middle">2</text></g>
<g transform="translate(1109.56,974.33) scale(1.0,1.026)"><text x="0" y="0" font-size="38.0" fill="#ffffff" text-anchor="middle"><tspan fill="transparent">1</tspan></text><path transform="translate(-10.57,0) scale(0.01855,-0.01855)" d="M763,0H583V1147Q518,1085 412.5,1023Q307,961 223,930V1104Q374,1175 487,1276Q600,1377 647,1472H763Z" fill="#ffffff"/></g>
<g transform="translate(1189.15,974.35) scale(1.0,1.026)"><text x="0" y="0" font-size="38.0" fill="#ffffff" text-anchor="middle"><tspan fill="transparent">1</tspan>08</text><path transform="translate(-31.70,0) scale(0.01855,-0.01855)" d="M763,0H583V1147Q518,1085 412.5,1023Q307,961 223,930V1104Q374,1175 487,1276Q600,1377 647,1472H763Z" fill="#ffffff"/></g>
<g transform="translate(1268.73,974.33) scale(1.0,1.026)"><text x="0" y="0" font-size="38.0" fill="#ffffff" text-anchor="middle">4</text></g>
<g transform="translate(1348.31,974.35) scale(1.0,1.026)"><text x="0" y="0" font-size="38.0" fill="#ffffff" text-anchor="middle">93</text></g>
<g transform="translate(552.49,1051.25) scale(1.0,1.026)"><text x="0" y="0" font-size="38.0" fill="#000000" text-anchor="middle">30</text></g>
<g transform="translate(632.07,1051.22) scale(1.0,1.026)"><text x="0" y="0" font-size="38.0" fill="#000000" text-anchor="middle"><tspan fill="transparent">1</tspan></text><path transform="translate(-10.57,0) scale(0.01855,-0.01855)" d="M763,0H583V1147Q518,1085 412.5,1023Q307,961 223,930V1104Q374,1175 487,1276Q600,1377 647,1472H763Z" fill="#000000"/></g>
<g transform="translate(711.65,1051.22) scale(1.0,1.026)"><text x="0" y="0" font-size="38.0" fill="#ffffff" text-anchor="middle"><tspan fill="transparent">1</tspan>7</text><path transform="translate(-21.13,0) scale(0.01855,-0.01855)" d="M763,0H583V1147Q518,1085 412.5,1023Q307,961 223,930V1104Q374,1175 487,1276Q600,1377 647,1472H763Z" fill="#ffffff"/></g>
<g transform="translate(791.24,1051.22) scale(1.0,1.026)"><text x="0" y="0" font-size="38.0" fill="#000000" text-anchor="middle">4</text></g>
<g transform="translate(870.82,1051.22) scale(1.0,1.026)"><text x="0" y="0" font-size="38.0" fill="#000000" text-anchor="middle"><tspan fill="transparent">1</tspan></text><path transform="translate(-10.57,0) scale(0.01855,-0.01855)" d="M763,0H583V1147Q518,1085 412.5,1023Q307,961 223,930V1104Q374,1175 487,1276Q600,1377 647,1472H763Z" fill="#000000"/></g>
<g transform="translate(950.40,1051.05) scale(1.0,1.026)"><text x="0" y="0" font-size="38.0" fill="#000000" text-anchor="middle">5</text></g>
<g transform="translate(1029.98,1051.42) scale(1.0,1.026)"><text x="0" y="0" font-size="38.0" fill="#ffffff" text-anchor="middle">2</text></g>
<g transform="translate(1109.56,1051.42) scale(1.0,1.026)"><text x="0" y="0" font-size="38.0" fill="#ffffff" text-anchor="middle">2</text></g>
<g transform="translate(1189.15,1051.25) scale(1.0,1.026)"><text x="0" y="0" font-size="38.0" fill="#ffffff" text-anchor="middle">95</text></g>
<g transform="translate(1268.73,1051.22) scale(1.0,1.026)"><text x="0" y="0" font-size="38.0" fill="#ffffff" text-anchor="middle">4</text></g>
<g transform="translate(1348.31,1051.25) scale(1.0,1.026)"><text x="0" y="0" font-size="38.0" fill="#ffffff" text-anchor="middle"><tspan fill="transparent">1</tspan><tspan fill="transparent">1</tspan>3</text><path transform="translate(-30.29,0) scale(0.01855,-0.01855)" d="M763,0H583V1147Q518,1085 412.5,1023Q307,961 223,930V1104Q374,1175 487,1276Q600,1377 647,1472H763Z" fill="#ffffff"/><path transform="translate(-9.16,0) scale(0.01855,-0.01855)" d="M763,0H583V1147Q518,1085 412.5,1023Q307,961 223,930V1104Q374,1175 487,1276Q600,1377 647,1472H763Z" fill="#ffffff"/></g>
<path d="M1401.30,345.05H1496.30M1401.30,421.95H1496.30M1401.30,498.85H1512.70M1401.30,575.75H1487.00M1401.30,652.65H1487.00M1496.30,345.05V421.95M1496.30,383.50H1512.70M1512.70,383.50V498.85M1512.70,441.18H1576.70M1487.00,575.75V652.65M1487.00,614.20H1576.70M1576.70,441.18V614.20M1576.70,527.69H1640.50M1401.30,729.55H1465.50M1401.30,806.45H1465.50M1401.30,883.35H1485.30M1401.30,960.25H1472.80M1401.30,1037.15H1472.80M1465.50,729.55V806.45M1465.50,768.00H1485.30M1485.30,768.00V883.35M1485.30,825.67H1530.80M1472.80,960.25V1037.15M1472.80,998.70H1530.80M1530.80,825.67V998.70M1530.80,912.19H1640.50M1640.50,527.69V912.19" fill="none" stroke="#000" stroke-width="2.7" stroke-linecap="butt" stroke-linejoin="round"/>
<text transform="translate(559.97,1076.0) rotate(-90)" x="0" y="0" font-size="38.0" fill="#000" text-anchor="end">mpg</text>
<text transform="translate(643.30,1076.0) rotate(-90)" x="0" y="0" font-size="38.0" fill="#000" text-anchor="end">vs</text>
<text transform="translate(719.13,1076.0) rotate(-90)" x="0" y="0" font-size="38.0" fill="#000" text-anchor="end">qsec</text>
<text transform="translate(806.04,1076.0) rotate(-90)" x="0" y="0" font-size="38.0" fill="#000" text-anchor="end">drat</text>
<text transform="translate(882.07,1076.0) rotate(-90)" x="0" y="0" font-size="38.0" fill="#000" text-anchor="end">am</text>
<text transform="translate(957.87,1076.0) rotate(-90)" x="0" y="0" font-size="38.0" fill="#000" text-anchor="end">gear</text>
<text transform="translate(1043.33,1076.0) rotate(-90)" x="0" y="0" font-size="38.0" fill="#000" text-anchor="end">wt</text>
<text transform="translate(1124.36,1076.0) rotate(-90)" x="0" y="0" font-size="38.0" fill="#000" text-anchor="end">carb</text>
<text transform="translate(1200.17,1076.0) rotate(-90)" x="0" y="0" font-size="38.0" fill="#000" text-anchor="end">disp</text>
<text transform="translate(1279.75,1076.0) rotate(-90)" x="0" y="0" font-size="38.0" fill="#000" text-anchor="end">cyl</text>
<text transform="translate(1359.33,1076.0) rotate(-90)" x="0" y="0" font-size="38.0" fill="#000" text-anchor="end">hp</text>
<defs><linearGradient id="vg" x1="0" x2="1" y1="0" y2="0"><stop offset="0.0000" stop-color="#35003f"/><stop offset="0.0100" stop-color="#350341"/><stop offset="0.0200" stop-color="#340544"/><stop offset="0.0300" stop-color="#340846"/><stop offset="0.0400" stop-color="#340a49"/><stop offset="0.0500" stop-color="#340d4b"/><stop offset="0.0600" stop-color="#330f4e"/><stop offset="0.0700" stop-color="#331250"/><stop offset="0.0800" stop-color="#331553"/><stop offset="0.0900" stop-color="#321755"/><stop offset="0.1000" stop-color="#321a58"/><stop offset="0.1100" stop-color="#321c5a"/><stop offset="0.1200" stop-color="#311f5d"/><stop offset="0.1300" stop-color="#31215f"/><stop offset="0.1400" stop-color="#312462"/><stop offset="0.1500" stop-color="#312664"/><stop offset="0.1600" stop-color="#302967"/><stop offset="0.1700" stop-color="#302c69"/><stop offset="0.1800" stop-color="#302e6c"/><stop offset="0.1900" stop-color="#2f316e"/><stop offset="0.2000" stop-color="#2f3371"/><stop offset="0.2100" stop-color="#2f3673"/><stop offset="0.2200" stop-color="#2f3876"/><stop offset="0.2300" stop-color="#2e3b78"/><stop offset="0.2400" stop-color="#2e3e7a"/><stop offset="0.2500" stop-color="#2d407a"/><stop offset="0.2600" stop-color="#2d437a"/><stop offset="0.2700" stop-color="#2c457a"/><stop offset="0.2800" stop-color="#2c487a"/><stop offset="0.2900" stop-color="#2b4a7a"/><stop offset="0.3000" stop-color="#2b4d7a"/><stop offset="0.3100" stop-color="#2a4f7a"/><stop offset="0.3200" stop-color="#2a527a"/><stop offset="0.3300" stop-color="#29557a"/><stop offset="0.3400" stop-color="#29577a"/><stop offset="0.3500" stop-color="#285a7a"/><stop offset="0.3600" stop-color="#285c7a"/><stop offset="0.3700" stop-color="#275f7a"/><stop offset="0.3800" stop-color="#27617a"/><stop offset="0.3900" stop-color="#26647a"/><stop offset="0.4000" stop-color="#26667a"/><stop offset="0.4100" stop-color="#25697a"/><stop offset="0.4200" stop-color="#256c7a"/><stop offset="0.4300" stop-color="#246e7a"/><stop offset="0.4400" stop-color="#24717a"/><stop offset="0.4500" stop-color="#23737a"/><stop offset="0.4600" stop-color="#23767a"/><stop offset="0.4700" stop-color="#22787a"/><stop offset="0.4800" stop-color="#227b7a"/><stop offset="0.4900" stop-color="#217d7a"/><stop offset="0.5000" stop-color="#21807a"/><stop offset="0.5100" stop-color="#238378"/><stop offset="0.5200" stop-color="#258576"/><stop offset="0.5300" stop-color="#288874"/><stop offset="0.5400" stop-color="#2a8b73"/><stop offset="0.5500" stop-color="#2c8e71"/><stop offset="0.5600" stop-color="#2e906f"/><stop offset="0.5700" stop-color="#30936d"/><stop offset="0.5800" stop-color="#32966b"/><stop offset="0.5900" stop-color="#359969"/><stop offset="0.6000" stop-color="#379b67"/><stop offset="0.6100" stop-color="#399e66"/><stop offset="0.6200" stop-color="#3ba164"/><stop offset="0.6300" stop-color="#3da462"/><stop offset="0.6400" stop-color="#3fa660"/><stop offset="0.6500" stop-color="#42a95e"/><stop offset="0.6600" stop-color="#44ac5c"/><stop offset="0.6700" stop-color="#46af5a"/><stop offset="0.6800" stop-color="#48b159"/><stop offset="0.6900" stop-color="#4ab457"/><stop offset="0.7000" stop-color="#4cb755"/><stop offset="0.7100" stop-color="#4fba53"/><stop offset="0.7200" stop-color="#51bc51"/><stop offset="0.7300" stop-color="#55bf4f"/><stop offset="0.7400" stop-color="#5bc04e"/><stop offset="0.7500" stop-color="#61c24c"/><stop offset="0.7600" stop-color="#68c34b"/><stop offset="0.7700" stop-color="#6ec549"/><stop offset="0.7800" stop-color="#74c648"/><stop offset="0.7900" stop-color="#7bc846"/><stop offset="0.8000" stop-color="#81c945"/><stop offset="0.8100" stop-color="#87cb43"/><stop offset="0.8200" stop-color="#8ecd42"/><stop offset="0.8300" stop-color="#94ce40"/><stop offset="0.8400" stop-color="#9ad03f"/><stop offset="0.8500" stop-color="#a1d13d"/><stop offset="0.8600" stop-color="#a7d33c"/><stop offset="0.8700" stop-color="#add43a"/><stop offset="0.8800" stop-color="#b4d639"/><stop offset="0.8900" stop-color="#bad737"/><stop offset="0.9000" stop-color="#c0d936"/><stop offset="0.9100" stop-color="#c7da34"/><stop offset="0.9200" stop-color="#cddc33"/><stop offset="0.9300" stop-color="#d2dd30"/><stop offset="0.9400" stop-color="#d8de2e"/><stop offset="0.9500" stop-color="#dddf2b"/><stop offset="0.9600" stop-color="#e3e029"/><stop offset="0.9700" stop-color="#e8e126"/><stop offset="0.9800" stop-color="#eee223"/><stop offset="0.9900" stop-color="#f4e321"/><stop offset="1.0000" stop-color="#f9e41e"/></linearGradient></defs>
<rect x="670.8" y="1191.0" width="576.00" height="35.80" fill="url(#vg)"/>
<line x1="807.88" x2="807.88" y1="1191.0" y2="1198.16" stroke="#fff" stroke-width="1.3"/>
<line x1="807.88" x2="807.88" y1="1219.64" y2="1226.8" stroke="#fff" stroke-width="1.3"/>
<g transform="translate(806.88,1265.00)"><text x="0" y="0" font-size="32.0" fill="#000" text-anchor="middle">-<tspan fill="transparent">1</tspan>.00</text><path transform="translate(-25.81,0) scale(0.01562,-0.01562)" d="M763,0H583V1147Q518,1085 412.5,1023Q307,961 223,930V1104Q374,1175 487,1276Q600,1377 647,1472H763Z" fill="#000"/></g>
<line x1="958.20" x2="958.20" y1="1191.0" y2="1198.16" stroke="#fff" stroke-width="1.3"/>
<line x1="958.20" x2="958.20" y1="1219.64" y2="1226.8" stroke="#fff" stroke-width="1.3"/>
<g transform="translate(957.20,1265.00)"><text x="0" y="0" font-size="32.0" fill="#000" text-anchor="middle">0.07</text></g>
<line x1="1088.85" x2="1088.85" y1="1191.0" y2="1198.16" stroke="#fff" stroke-width="1.3"/>
<line x1="1088.85" x2="1088.85" y1="1219.64" y2="1226.8" stroke="#fff" stroke-width="1.3"/>
<g transform="translate(1087.85,1265.00)"><text x="0" y="0" font-size="32.0" fill="#000" text-anchor="middle"><tspan fill="transparent">1</tspan>.00</text><path transform="translate(-31.14,0) scale(0.01562,-0.01562)" d="M763,0H583V1147Q518,1085 412.5,1023Q307,961 223,930V1104Q374,1175 487,1276Q600,1377 647,1472H763Z" fill="#000"/></g>
<line x1="1229.34" x2="1229.34" y1="1191.0" y2="1198.16" stroke="#fff" stroke-width="1.3"/>
<line x1="1229.34" x2="1229.34" y1="1219.64" y2="1226.8" stroke="#fff" stroke-width="1.3"/>
<g transform="translate(1228.34,1265.00)"><text x="0" y="0" font-size="32.0" fill="#000" text-anchor="middle">2.00</text></g>
</svg></body></html>
